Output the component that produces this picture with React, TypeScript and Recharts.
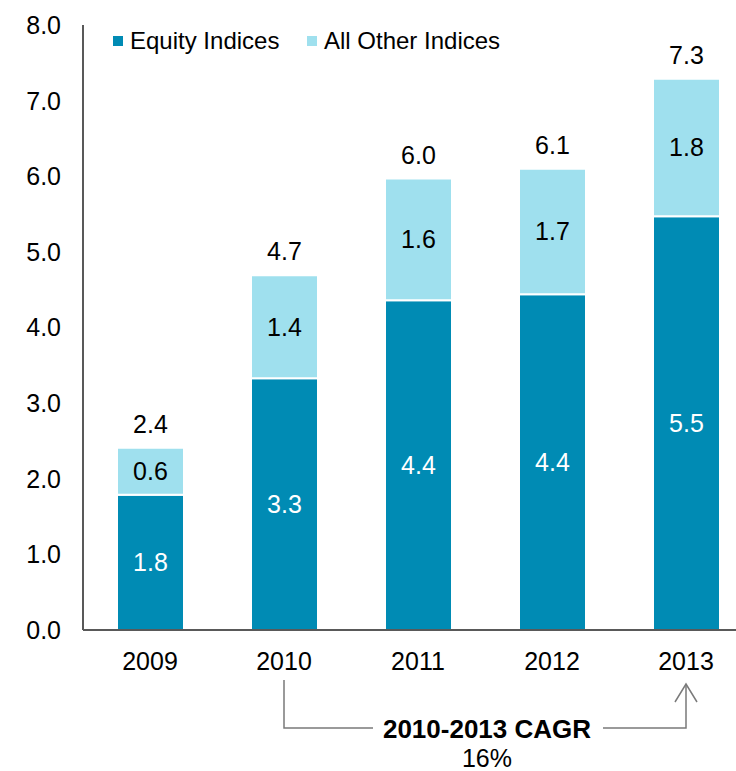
import { Bar, BarChart, LabelList, XAxis, YAxis } from 'recharts'

const categories = ['2009', '2010', '2011', '2012', '2013']
const equityValues = [1.79, 3.33, 4.36, 4.44, 5.47]
const otherValues = [0.62, 1.36, 1.61, 1.66, 1.82]
const yTicks = [0, 1, 2, 3, 4, 5, 6, 7, 8]
const seriesNames = ['Equity Indices', 'All Other Indices']
const seriesColors = ['#008bb4', '#9fe0ee']
const cagrTitle = '2010-2013 CAGR'
const cagrValue = '16%'
const cagrFrom = 1
const cagrTo = 4

const data = categories.map((year, i) => ({
  year,
  equity: equityValues[i],
  other: otherValues[i],
  total: equityValues[i] + otherValues[i],
}))

// layout
const W = 760
const H = 771
const AXIS_W = 83
const RIGHT = 7
const TOP = 25
const BOTTOM = 101
const XAXIS_H = 40
const FONT = '"Liberation Sans", Arial, sans-serif'
const AXIS_COLOR = '#595959'

const fmt = (v: unknown) => Number(v).toFixed(1)

function CagrNote() {
  const band = (W - AXIS_W - RIGHT) / categories.length
  const cx = (i: number) => AXIS_W + (i + 0.5) * band
  const x1 = cx(cagrFrom)
  const x2 = cx(cagrTo)
  const mid = (x1 + x2) / 2 + 2
  const lineY = 728
  return (
    <svg width={736} height={771} style={{ position: 'absolute', left: 0, top: 0, pointerEvents: 'none' }}>
      <g fill="none" stroke="#7a7a7a" strokeWidth={1.5}>
        <path d={`M${x1},680 V${lineY} H${mid - 114}`} />
        <path d={`M${mid + 116},${lineY} H${x2} V685`} />
        <path d={`M${x2 - 11},702 L${x2},684 L${x2 + 11},702`} />
      </g>
      <text x={mid} y={738} textAnchor="middle" fontFamily={FONT} fontSize={26} fontWeight="bold" fill="#000">
        {cagrTitle}
      </text>
      <text x={mid} y={767} textAnchor="middle" fontFamily={FONT} fontSize={25} fill="#000">
        {cagrValue}
      </text>
    </svg>
  )
}

function LegendBox() {
  const items = [
    { name: seriesNames[0], color: seriesColors[0], left: 113 },
    { name: seriesNames[1], color: seriesColors[1], left: 307 },
  ]
  return (
    <>
      {items.map((it) => (
        <div
          key={it.name}
          style={{
            position: 'absolute',
            left: it.left,
            top: 27,
            display: 'flex',
            alignItems: 'center',
            fontFamily: FONT,
            fontSize: 24,
            color: '#000',
            lineHeight: '28px',
          }}
        >
          <span style={{ width: 10, height: 10, background: it.color, marginRight: 7, display: 'inline-block' }} />
          {it.name}
        </div>
      ))}
    </>
  )
}

export default function App() {
  return (
    <div style={{ position: 'absolute', left: 0, top: 0, width: 736, height: 771, overflow: 'hidden', background: '#fff' }}>
      <BarChart
        width={W}
        height={H}
        data={data}
        margin={{ top: TOP, right: RIGHT, left: 0, bottom: BOTTOM }}
        barSize={67}
        style={{ fontFamily: FONT }}
      >
        <XAxis
          dataKey="year"
          height={XAXIS_H}
          tickLine={false}
          tickMargin={16}
          axisLine={{ stroke: AXIS_COLOR, strokeWidth: 2 }}
          tick={{ fontSize: 25, fill: '#000' }}
        />
        <YAxis
          width={AXIS_W}
          domain={[0, 8]}
          ticks={yTicks}
          tickFormatter={fmt}
          tickLine={false}
          tickMargin={16}
          axisLine={{ stroke: AXIS_COLOR, strokeWidth: 2 }}
          tick={{ fontSize: 25, fill: '#000' }}
          interval={0}
        />
        <Bar dataKey="equity" stackId="a" fill={seriesColors[0]} stroke="#fff" strokeWidth={2} isAnimationActive={false}>
          <LabelList dataKey="equity" position="center" formatter={fmt} fill="#fff" fontSize={25} />
        </Bar>
        <Bar dataKey="other" stackId="a" fill={seriesColors[1]} stroke="#fff" strokeWidth={2} isAnimationActive={false}>
          <LabelList dataKey="other" position="center" formatter={fmt} fill="#000" fontSize={25} />
          <LabelList dataKey="total" position="top" offset={15} formatter={fmt} fill="#000" fontSize={25} />
        </Bar>
      </BarChart>
      <LegendBox />
      <CagrNote />
    </div>
  )
}
